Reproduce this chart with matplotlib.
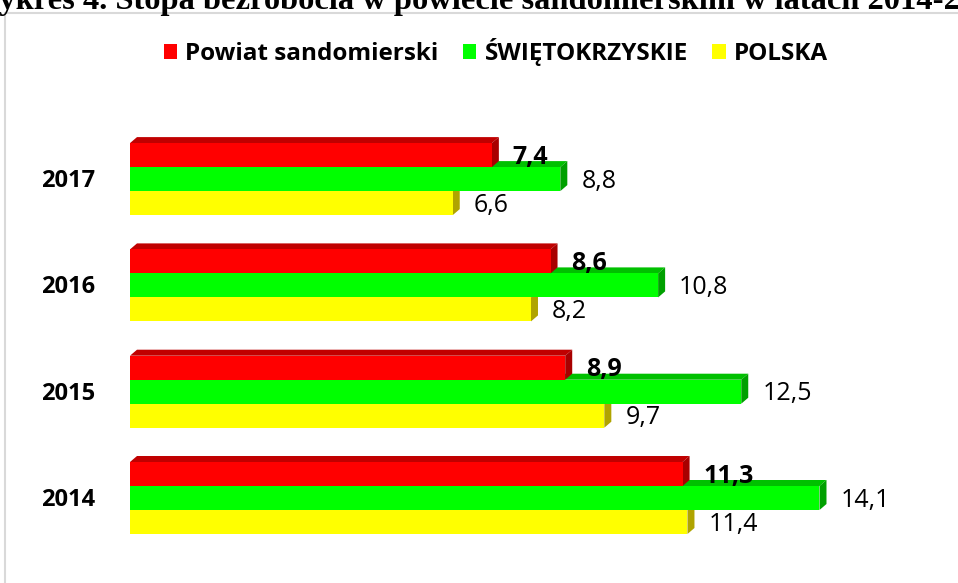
import matplotlib.pyplot as plt
from matplotlib.patches import Polygon, Rectangle
import numpy as np

years = ['2014', '2015', '2016', '2017']
powiat = [11.3, 8.9, 8.6, 7.4]
swietokrzyskie = [14.1, 12.5, 10.8, 8.8]
polska = [11.4, 9.7, 8.2, 6.6]

series_names = ['Powiat sandomierski', 'ŚWIĘTOKRZYSKIE', 'POLSKA']
front_colors = ['#FF0000', '#00FF00', '#FFFF00']
top_colors = ['#C00000', '#00C000', '#C8BE00']
side_colors = ['#A80000', '#00A000', '#B0A400']

W, H = 958, 583
fig = plt.figure(figsize=(W / 100, H / 100), dpi=100)

# pixel layout (from top-left of image)
x0_px = 130
px_per_unit = 48.9
group_px = 106.3
first_center_px = 498  # centre of 2014 group

ax = fig.add_axes([x0_px / W, 0, (W - x0_px) / W, 1])
ax.set_xlim(0, (W - x0_px) / px_per_unit)
ax.set_ylim(-(H - first_center_px) / group_px, (first_center_px) / group_px)
ax.axis('off')

bar_h = 24 / group_px
dx = 7 / px_per_unit
dy = 6 / group_px
y = np.arange(len(years))

# draw yellow first, red last so the upper bar hides the top face of the one below
all_values = [powiat, swietokrzyskie, polska]
offsets = [bar_h, 0, -bar_h]
for k in [2, 1, 0]:
    vals = all_values[k]
    for i, v in enumerate(vals):
        yc = y[i] + offsets[k]
        bot, top = yc - bar_h / 2, yc + bar_h / 2
        ax.add_patch(Polygon([(0, top), (dx, top + dy), (v + dx, top + dy), (v, top)],
                             closed=True, facecolor=top_colors[k], edgecolor='none'))
        ax.add_patch(Polygon([(v, bot), (v, top), (v + dx, top + dy), (v + dx, bot + dy)],
                             closed=True, facecolor=side_colors[k], edgecolor='none'))
    ax.barh(y + offsets[k], vals, height=bar_h, color=front_colors[k],
            label=series_names[k], edgecolor='none')
    for i, v in enumerate(vals):
        ax.annotate(f'{v:.1f}'.replace('.', ','), (v, y[i] + offsets[k]),
                    xytext=(21, -2), textcoords='offset pixels',
                    ha='left', va='center', fontsize=18, family='Open Sans',
                    fontweight='bold' if k == 0 else 'normal', color='black')

for i, yr in enumerate(years):
    ax.annotate(yr, (0, y[i]), xytext=(-35, -2), textcoords='offset pixels',
                ha='right', va='center', fontsize=17, family='Open Sans',
                fontweight='bold', color='black')

handles, labels = ax.get_legend_handles_labels()
order = [2, 1, 0]
fig.legend([handles[j] for j in order], [labels[j] for j in order],
           loc='center', bbox_to_anchor=(496 / W, 1 - 52 / H), ncol=3, frameon=False,
           handlelength=0.55, handleheight=0.55, handletextpad=0.35, columnspacing=1.0,
           prop={'family': 'Open Sans', 'weight': 'bold', 'size': 17.5})

# chart frame
fig.patches.append(Rectangle((5 / W, -0.1), 1.1, 1 - 13 / H + 0.1, transform=fig.transFigure,
                             facecolor='none', edgecolor='#D9D9D9', linewidth=1.5))

# title clipped at the top of the picture
fig.text(-32 / W, 1 - 8.5 / H, 'Wykres 4. Stopa bezrobocia w powiecie sandomierskim w latach 2014-2017',
         ha='left', va='baseline', fontsize=23.4, family='Liberation Serif', fontweight='bold')

fig.savefig('out.png', dpi=100)
